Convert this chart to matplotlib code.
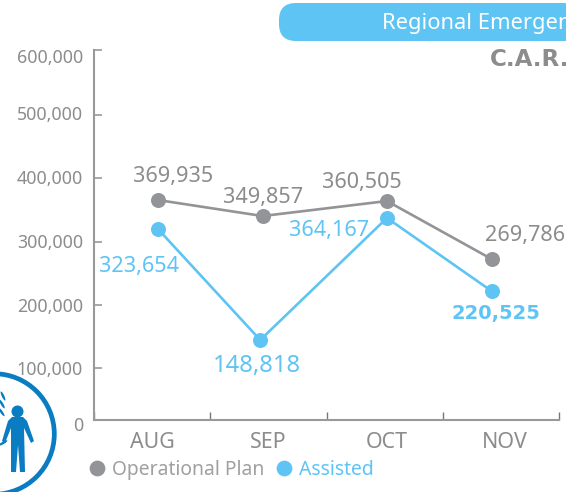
import matplotlib
matplotlib.use("Agg")
import matplotlib.pyplot as plt
from matplotlib.patches import Circle, Ellipse, FancyBboxPatch, Polygon
from matplotlib.ticker import FixedLocator
from matplotlib.transforms import ScaledTranslation

plt.rcParams["font.family"] = ["Noto Sans", "DejaVu Sans"]

months = ["AUG", "SEP", "OCT", "NOV"]
# the original draws the points off-centre from the month labels, so x is read too
plan_x = [0.05, 0.95, 2.02, 2.92]
plan_values = [365600, 340300, 364000, 272300]
plan_labels = ["369,935", "349,857", "360,505", "269,786"]
assisted_x = [0.05, 0.93, 2.02, 2.92]
assisted_values = [319800, 144300, 337200, 221700]
assisted_labels = ["323,654", "148,818", "364,167", "220,525"]
tick_values = [17800, 100000, 200000, 300000, 400000, 500000, 602800]
tick_labels = ["0", "100,000", "200,000", "300,000", "400,000", "500,000", "600,000"]

GREY = "#929497"
BLUE = "#5EC4F4"
TEXT = "#8c8c8c"
ICON = "#0a7cc1"
W, H = 566, 492

fig = plt.figure(figsize=(W / 100, H / 100), dpi=100)
ax = fig.add_axes([94 / W, 1 - 420 / H, (559 - 94) / W, 370 / H])
ax.set_xlim(-0.5, 3.5)
ax.set_ylim(17800, 602800)
ax.patch.set_alpha(0)

ax.plot(plan_x, plan_values, "o-", color=GREY, lw=1.9, ms=10.8, mew=0, clip_on=False, label="Operational Plan")
ax.plot(assisted_x, assisted_values, "o-", color=BLUE, lw=1.9, ms=10.8, mew=0, clip_on=False, label="Assisted")

# label offsets from each marker, in pixels
plan_off = [(15, 24), (1, 19), (-25, 19), (33, 24)]
assisted_off = [(-19, -38), (-3, -26), (-58, -13), (4, -22)]
assisted_size = [15.6, 17.2, 15.6, 14]
for x, v, s, off in zip(plan_x, plan_values, plan_labels, plan_off):
    ax.annotate(s, (x, v), xytext=(off[0] * 0.72, off[1] * 0.72), textcoords="offset points",
                ha="center", va="center", fontsize=15.6, color=TEXT)
for i, (x, v, s, off) in enumerate(zip(assisted_x, assisted_values, assisted_labels, assisted_off)):
    if i == 3:
        ax.annotate(s, (x, v), xytext=(off[0] * 0.72, off[1] * 0.72), textcoords="offset points",
                    ha="center", va="center", fontsize=assisted_size[i], color=BLUE, fontweight="bold",
                    family="DejaVu Sans")
    else:
        ax.annotate(s, (x, v), xytext=(off[0] * 0.72, off[1] * 0.72), textcoords="offset points",
                    ha="center", va="center", fontsize=assisted_size[i], color=BLUE)

for side in ["top", "right"]:
    ax.spines[side].set_visible(False)
for side in ["left", "bottom"]:
    ax.spines[side].set_color("#999999")
    ax.spines[side].set_linewidth(1.5)

ax.set_yticks(tick_values)
ax.set_yticklabels(tick_labels)
ax.tick_params(axis="y", direction="in", length=6, width=1.2, color="#999999", labelsize=12.8,
               labelcolor=TEXT, pad=8)
ax.set_xticks([i + 0.5 for i in range(-1, 4)])
ax.set_xticklabels([])
ax.xaxis.set_minor_locator(FixedLocator(range(4)))
ax.set_xticklabels(months, minor=True)
ax.tick_params(axis="x", which="major", direction="in", length=6, width=1.0, color="#777777")
ax.tick_params(axis="x", which="minor", length=0, labelsize=15.4, labelcolor=TEXT, pad=9)

# tick labels in the original sit a little off their ticks (pixels)
y_shift = [4, 0, 0, -1, -1, -2, 6]
for lab, dy in zip(ax.get_yticklabels(), y_shift):
    lab.set_transform(lab.get_transform() + ScaledTranslation(0, -dy / 100, fig.dpi_scale_trans))
x_shift = [0, 0, 2, 4]
for lab, dx in zip(ax.get_xticklabels(minor=True), x_shift):
    lab.set_transform(lab.get_transform() + ScaledTranslation(dx / 100, 0, fig.dpi_scale_trans))

leg = fig.legend(loc="lower left", bbox_to_anchor=(78 / W, 5 / H), ncol=2, frameon=False,
                 fontsize=13.9, handletextpad=0.1, columnspacing=0.4, handlelength=1.3, markerscale=1.05,
                 labelcolor=["#a0a0a0", BLUE], borderpad=0.35, borderaxespad=0)
for h in leg.legend_handles:
    h.set_linestyle("none")

# overlay in pixel coordinates for the banner, heading and logo
deco = fig.add_axes([0, 0, 1, 1], zorder=-1)
deco.set_xlim(0, W)
deco.set_ylim(H, 0)
deco.axis("off")

deco.add_patch(FancyBboxPatch((279, 3), 400, 38, boxstyle="round,pad=0,rounding_size=17",
                              fc=BLUE, ec="none"))
deco.text(382, 23, "Regional Emergency", color="white", fontsize=15.8, va="center", ha="left")
deco.text(490, 60, "C.A.R.", color=TEXT, fontsize=16.6, fontweight="bold", va="center", ha="left",
          family="DejaVu Sans")

deco.add_patch(Circle((-6, 434), 60.3, fc="none", ec=ICON, lw=3.4))
deco.add_patch(Circle((17.5, 411.5), 6, fc=ICON, ec="none"))
deco.add_patch(Polygon([(12, 417), (23, 417), (27, 421), (34, 441), (31, 443), (24, 428),
                        (25, 472), (20, 472), (18, 445), (16, 472), (11, 472), (11, 428),
                        (5, 443), (2, 441), (8, 421)], fc=ICON, ec="none"))
for lx, ly, ang in [(3, 396, -25), (2, 404, -30), (1.5, 412, -35), (3, 443, 60)]:
    deco.add_patch(Ellipse((lx, ly), 2.5, 10, angle=ang, fc=ICON, ec="none"))

fig.savefig("out.png", dpi=100)
